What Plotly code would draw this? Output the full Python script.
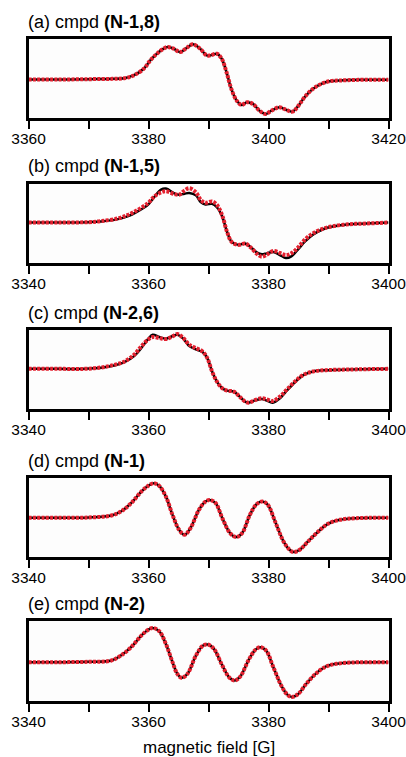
import plotly.graph_objects as go

# ---------------- data ----------------
# panel (a) cmpd (N-1,8): experiment and simulation overlap
field_a = [3360, 3365, 3370, 3374, 3376, 3377.5, 3379.2, 3380.3, 3381.4, 3382.5, 3383.2,
           3384.2, 3385.3, 3386.4, 3387.4, 3388.6, 3389.7, 3390.3, 3391.4, 3392.2, 3393.0,
           3393.8, 3394.7, 3395.5, 3396.4, 3397.4, 3398.5, 3399.5, 3400.5, 3401.8, 3403.0,
           3404.0, 3405.0, 3406.0, 3407.4, 3408.8, 3410.2, 3411.8, 3415, 3420]
exp_a = [0, 0, 0.01, 0.02, 0.04, 0.12, 0.32, 0.57, 0.77, 0.92, 0.97,
         0.92, 0.82, 0.95, 1.05, 0.92, 0.72, 0.72, 0.77, 0.62, 0.22,
         -0.28, -0.63, -0.76, -0.68, -0.73, -0.93, -1.03, -0.93, -0.83, -0.91,
         -0.96, -0.78, -0.53, -0.28, -0.13, -0.05, -0.03, -0.01, -0.01]
sim_a = exp_a

# panel (b) cmpd (N-1,5)
field_b = [3340, 3345, 3350, 3352.1, 3354.9, 3356.5, 3358.2, 3359.9, 3361.0, 3362.1, 3362.9,
           3364.3, 3365.1, 3366.0, 3366.8, 3367.9, 3368.7, 3369.5, 3370.6, 3371.4, 3372.3,
           3373.1, 3373.9, 3375.0, 3376.1, 3377.0, 3378.1, 3378.9, 3379.7, 3380.8, 3381.9,
           3382.9, 3383.8, 3384.9, 3386.1, 3387.4, 3389.1, 3390.7, 3393.5, 3396.3, 3400]
exp_b = [0, 0, 0.01, 0.03, 0.10, 0.18, 0.33, 0.52, 0.76, 0.97, 1.00,
         0.86, 0.82, 0.85, 0.87, 0.80, 0.60, 0.53, 0.55, 0.45, 0.17,
         -0.28, -0.58, -0.66, -0.62, -0.72, -0.89, -0.94, -0.91, -0.87, -0.96,
         -1.05, -1.00, -0.80, -0.56, -0.36, -0.20, -0.12, -0.05, -0.03, 0]
sim_b = [0, 0, 0.01, 0.04, 0.12, 0.22, 0.37, 0.57, 0.77, 0.89, 0.92,
         0.84, 0.82, 0.94, 1.01, 0.89, 0.67, 0.58, 0.62, 0.52, 0.20,
         -0.28, -0.58, -0.66, -0.62, -0.73, -0.93, -1.01, -0.95, -0.84, -0.90,
         -0.96, -0.91, -0.74, -0.50, -0.32, -0.18, -0.11, -0.05, -0.03, 0]

# panel (c) cmpd (N-2,6)
field_c = [3340, 3345, 3349.4, 3352.1, 3354.3, 3356.0, 3357.6, 3358.8, 3359.9, 3360.7, 3361.8,
           3362.9, 3364.0, 3364.8, 3365.8, 3366.8, 3367.9, 3369.0, 3369.8, 3370.6, 3371.4,
           3372.3, 3373.1, 3374.2, 3375.2, 3376.1, 3376.7, 3377.8, 3378.9, 3379.7, 3380.7,
           3381.9, 3383.0, 3384.4, 3385.8, 3387.4, 3389.6, 3393.5, 3400]
exp_c = [0, 0, 0.0, 0.03, 0.10, 0.20, 0.38, 0.62, 0.88, 1.02, 0.95,
         0.90, 0.98, 1.02, 0.90, 0.68, 0.58, 0.50, 0.32, -0.08, -0.38,
         -0.58, -0.65, -0.68, -0.83, -0.98, -1.01, -0.94, -0.90, -0.95, -1.01,
         -0.88, -0.66, -0.40, -0.19, -0.08, -0.04, -0.02, 0]
sim_c = [0, 0, 0.0, 0.04, 0.12, 0.22, 0.42, 0.67, 0.87, 0.95, 0.92,
         0.89, 0.97, 1.04, 0.92, 0.72, 0.62, 0.52, 0.32, -0.08, -0.38,
         -0.58, -0.65, -0.68, -0.83, -0.98, -1.01, -0.93, -0.88, -0.91, -0.96,
         -0.83, -0.63, -0.38, -0.18, -0.08, -0.04, -0.02, 0]

# panel (d) cmpd (N-1): experiment and simulation overlap
field_d = [3340, 3345, 3350, 3353.8, 3355.4, 3357.1, 3358.8, 3359.9, 3360.9, 3361.8, 3362.9,
           3364.0, 3365.1, 3366.0, 3367.0, 3368.4, 3369.5, 3370.2, 3371.2, 3372.3, 3373.6,
           3374.6, 3375.6, 3376.9, 3378.0, 3379.0, 3379.9, 3381.1, 3382.5, 3383.5, 3384.2,
           3385.2, 3386.6, 3388.3, 3389.9, 3391.9, 3394.6, 3400]
exp_d = [0, 0, 0.01, 0.07, 0.19, 0.44, 0.79, 0.96, 1.04, 0.96, 0.64,
         0.09, -0.36, -0.51, -0.31, 0.24, 0.49, 0.54, 0.44, -0.01, -0.46,
         -0.58, -0.46, 0.09, 0.41, 0.49, 0.39, -0.11, -0.71, -0.96, -1.03,
         -0.96, -0.71, -0.41, -0.18, -0.06, -0.01, 0]
sim_d = exp_d

# panel (e) cmpd (N-2): experiment and simulation overlap
field_e = [3340, 3345, 3350, 3353.8, 3355.4, 3357.1, 3358.8, 3359.9, 3360.7, 3361.8, 3362.9,
           3364.0, 3364.8, 3365.5, 3366.5, 3367.9, 3369.1, 3369.9, 3370.9, 3372.3, 3373.5,
           3374.4, 3375.3, 3376.7, 3377.8, 3378.6, 3379.6, 3380.8, 3382.2, 3383.1, 3383.9,
           3385.0, 3386.3, 3388.0, 3389.6, 3391.3, 3394.0, 3400]
exp_e = [0, 0, 0.01, 0.05, 0.20, 0.45, 0.80, 0.97, 1.03, 0.93, 0.55,
         0.0, -0.35, -0.47, -0.35, 0.20, 0.50, 0.53, 0.40, -0.10, -0.47,
         -0.55, -0.43, 0.07, 0.37, 0.45, 0.35, -0.15, -0.73, -0.97, -1.05,
         -0.95, -0.65, -0.33, -0.13, -0.05, -0.01, 0]
sim_e = exp_e

labels = ["(a) cmpd <b>(N-1,8)</b>", "(b) cmpd <b>(N-1,5)</b>", "(c) cmpd <b>(N-2,6)</b>",
          "(d) cmpd <b>(N-1)</b>", "(e) cmpd <b>(N-2)</b>"]
x_ranges = [[3360, 3420], [3340, 3400], [3340, 3400], [3340, 3400], [3340, 3400]]
tick_a = [3360, 3370, 3380, 3390, 3400, 3410, 3420]
tick_text_a = ["3360", "", "3380", "", "3400", "", "3420"]
tick_b = [3340, 3350, 3360, 3370, 3380, 3390, 3400]
tick_text_b = ["3340", "", "3360", "", "3380", "", "3400"]
x_title = "magnetic field [G]"

# ---------------- layout ----------------
W, H = 406, 757
FONT = "Arial, 'Liberation Sans', Helvetica, sans-serif"
panel_px = [(38.5, 117.5), (183.5, 262.5), (329.5, 408.5), (477.5, 556.5), (620.5, 700.5)]
y_ranges = [[-1.135, 1.225], [-1.18, 1.15], [-1.185, 1.175], [-1.165, 1.215], [-1.155, 1.255]]
x_dom = [28.5 / W, 388.5 / W]

fields = [field_a, field_b, field_c, field_d, field_e]
exps = [exp_a, exp_b, exp_c, exp_d, exp_e]
sims = [sim_a, sim_b, sim_c, sim_d, sim_e]
ticks = [(tick_a, tick_text_a)] + [(tick_b, tick_text_b)] * 4

fig = go.Figure()
annotations = []
for i in range(5):
    sfx = "" if i == 0 else str(i + 1)
    xa, ya = "x" + sfx, "y" + sfx
    fig.add_trace(go.Scatter(x=fields[i], y=exps[i], xaxis=xa, yaxis=ya, mode="lines",
                             line=dict(color="black", width=2.5, shape="spline", smoothing=1.0),
                             showlegend=False, hoverinfo="skip"))
    fig.add_trace(go.Scatter(x=fields[i], y=sims[i], xaxis=xa, yaxis=ya, mode="lines",
                             line=dict(color="#e3202f", width=4, dash="3px,1.3px",
                                       shape="spline", smoothing=1.0),
                             showlegend=False, hoverinfo="skip"))
    top, bot = panel_px[i]
    tv, tt = ticks[i]
    fig.layout["xaxis" + sfx] = dict(
        domain=x_dom, anchor=ya, range=x_ranges[i], tickvals=tv, ticktext=tt,
        ticks="outside", ticklen=8, tickwidth=2, tickcolor="black",
        showline=True, linewidth=3, linecolor="black", mirror=True,
        showgrid=False, zeroline=False, automargin=False,
        ticklabeloverflow="allow", ticklabelstandoff=-3,
        tickfont=dict(family=FONT, size=15.5, color="black"))
    fig.layout["yaxis" + sfx] = dict(
        domain=[1 - bot / H, 1 - top / H], anchor=xa, range=y_ranges[i],
        showticklabels=False, ticks="", showline=True, linewidth=3, linecolor="black",
        mirror=True, showgrid=False, zeroline=False, automargin=False)
    annotations.append(dict(text=labels[i], xref="paper", yref="paper", x=26 / W,
                            y=1 - (top - 17) / H, xanchor="left", yanchor="middle",
                            showarrow=False, font=dict(family=FONT, size=18, color="black")))

annotations.append(dict(text=x_title, xref="paper", yref="paper", x=209 / W, y=1 - 747 / H,
                        xanchor="center", yanchor="middle", showarrow=False,
                        font=dict(family=FONT, size=17, color="black")))

fig.update_layout(width=W, height=H, autosize=False,
                  margin=dict(l=0, r=0, t=0, b=0, pad=0, autoexpand=False),
                  paper_bgcolor="white", plot_bgcolor="#fdfdfd",
                  annotations=annotations, font=dict(family=FONT))

post = ("document.documentElement.style.margin='0';document.body.style.margin='0';"
        "document.documentElement.style.overflow='hidden';document.body.style.overflow='hidden';")
fig.write_html("out.html", post_script=post, config={"responsive": False, "displayModeBar": False})
